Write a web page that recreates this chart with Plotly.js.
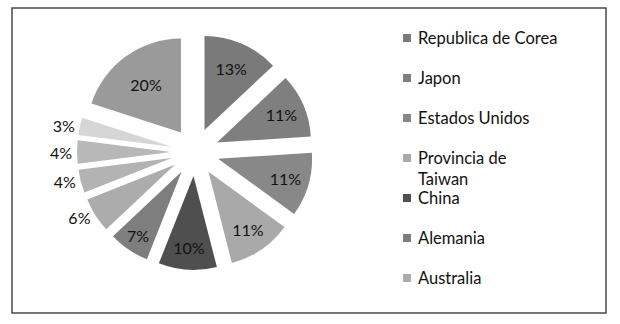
<!DOCTYPE html>
<html>
<head>
<meta charset="utf-8">
<script src="https://cdn.plot.ly/plotly-3.0.1.min.js"></script>
<style>
  html, body { margin: 0; padding: 0; background: #fff; }
  #chart { width: 620px; height: 324px; }
</style>
</head>
<body>
<div id="chart"></div>
<script>
// Share of each origin, in percent, clockwise from 12 o'clock
const labels = [
  'Republica de Corea', 'Japon', 'Estados Unidos', 'Provincia de Taiwan',
  'China', 'Alemania', 'Australia', 'Pais 8', 'Pais 9', 'Pais 10', 'Otros'
];
const values = [13, 11, 11, 11, 10, 7, 6, 4, 4, 3, 20];
const legendLabels = [
  'Republica de Corea', 'Japon', 'Estados Unidos', 'Provincia de<br>Taiwan',
  'China', 'Alemania', 'Australia'
];

const sliceColors = [
  '#7a7a7a', '#7f7f7f', '#888888', '#a9a9a9', '#4f4f4f', '#7e7e7e',
  '#acacac', '#b3b3b3', '#b8b8b8', '#d6d6d6', '#9a9a9a'
];
const textPos = [
  'inside', 'inside', 'inside', 'inside', 'inside', 'inside',
  'outside', 'outside', 'outside', 'outside', 'inside'
];

const W = 620, H = 324;
const FONT = 'Lato, "Open Sans", sans-serif';

const pie = {
  type: 'pie',
  labels: labels,
  values: values,
  sort: false,
  direction: 'clockwise',
  rotation: 0,
  pull: 0.255,
  marker: { colors: sliceColors, line: { width: 0 } },
  texttemplate: '%{percent:.0%}',
  textposition: textPos,
  insidetextorientation: 'horizontal',
  textfont: { family: FONT, size: 16, color: '#111111' },
  showlegend: false,
  hoverinfo: 'none',
  domain: { x: [77 / W, 313 / W], y: [54 / H, 290 / H] }
};

// Legend: square swatch + label for the named entries
const shapes = [{
  type: 'rect', xref: 'paper', yref: 'paper',
  x0: 12 / W, x1: 606 / W, y0: 1 - 313 / H, y1: 1 - 8 / H,
  line: { color: '#4a4a4a', width: 1.5 }, fillcolor: 'rgba(0,0,0,0)'
}];
const annotations = [];
const rowY = [38, 78, 118, 158, 198, 238, 278];
legendLabels.forEach((name, i) => {
  const y = rowY[i];
  shapes.push({
    type: 'rect', xref: 'paper', yref: 'paper',
    x0: 403 / W, x1: 411 / W, y0: 1 - (y + 4) / H, y1: 1 - (y - 4) / H,
    fillcolor: sliceColors[i], line: { width: 0 }
  });
  annotations.push({
    xref: 'paper', yref: 'paper',
    x: 416 / W, y: 1 - (y - 12) / H,
    xanchor: 'left', yanchor: 'top', align: 'left',
    text: name, showarrow: false,
    font: { family: FONT, size: 16.5, color: '#111111' }
  });
});

const layout = {
  width: W, height: H,
  margin: { l: 0, r: 0, t: 0, b: 0 },
  paper_bgcolor: '#ffffff',
  showlegend: false,
  shapes: shapes,
  annotations: annotations
};

Plotly.newPlot('chart', [pie], layout, { staticPlot: true, displayModeBar: false });
</script>
</body>
</html>
